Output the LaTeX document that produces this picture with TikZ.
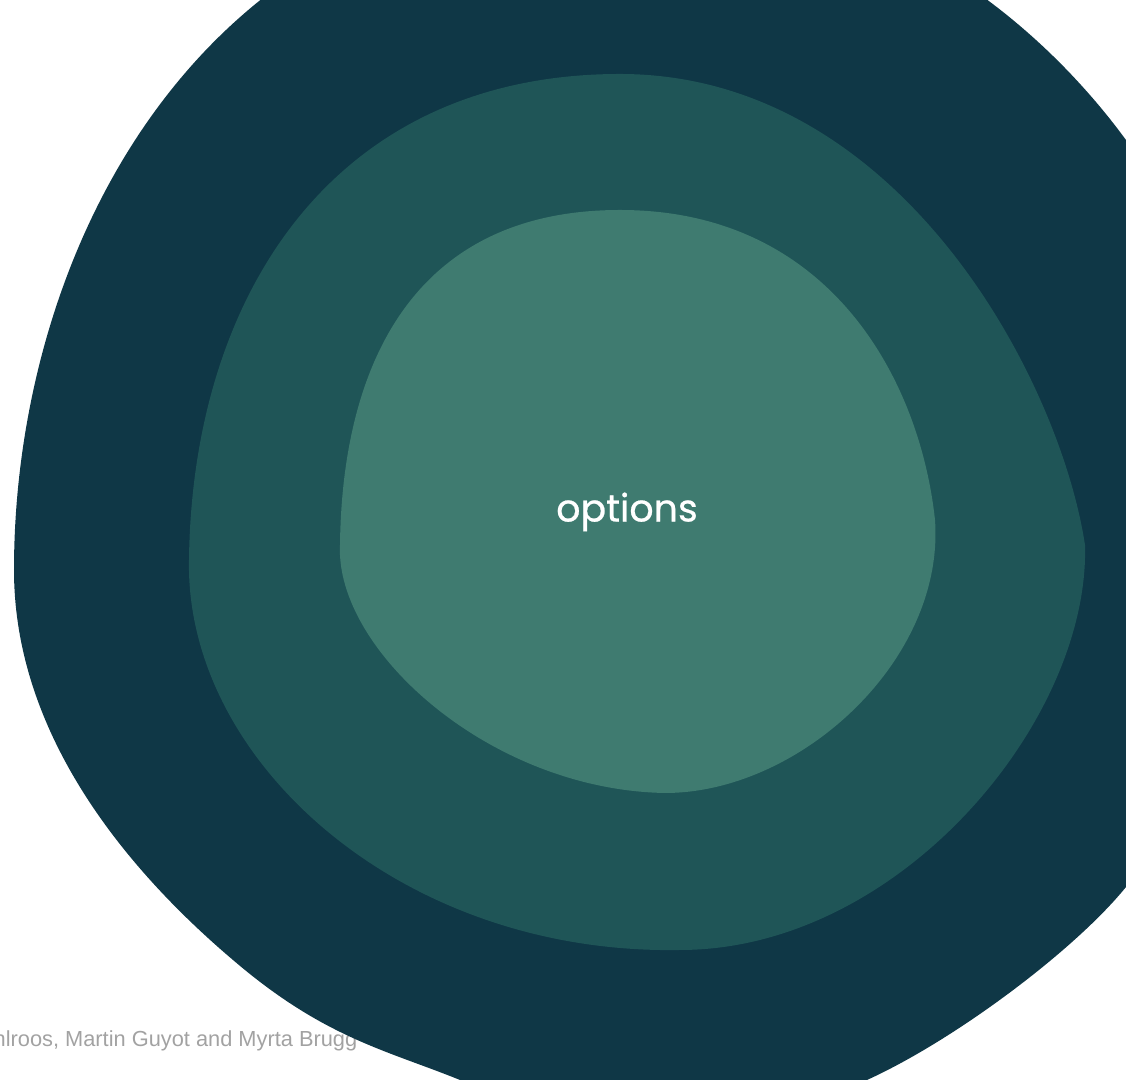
\documentclass[tikz,border=0pt]{standalone}
\usepackage{fontspec}
\usepackage{tikz}
\usetikzlibrary{positioning}
\newfontfamily\labelfont[FakeBold=0.6]{Poppins}
\newfontfamily\creditfont{Liberation Sans}
\definecolor{outerblue}{HTML}{0F3746}
\definecolor{midteal}{HTML}{1F5557}
\definecolor{innerteal}{HTML}{3F7B70}
\definecolor{creditgray}{HTML}{A2A2A2}
\tikzset{blob/.style = {draw=none}}
\tikzset{credit/.style = {anchor=base west, inner sep=0, text=creditgray, font=\creditfont\fontsize{6.2}{7}\selectfont}}
\tikzset{ringlabel/.style = {text=white, font=\labelfont\fontsize{10.8}{12}\selectfont}}

\begin{document}
\begin{tikzpicture}[x=0.01cm, y=-0.01cm]
    \useasboundingbox (0, 0) rectangle (1126, 1080);
    \clip (0, 0) rectangle (1126, 1080);

    \node [credit] (credit) at (-7, 1047) {hlroos, Martin Guyot and Myrta Brugg};

    % outer ring
    \fill [blob, outerblue] (14, 570)
        .. controls (14, 250) and (200, -120) .. (620, -120)
        .. controls (900, -120) and (1060, 50) .. (1126, 140)
        .. controls (1190, 220) and (1177, 824) .. (1126, 887)
        .. controls (1075, 950) and (955, 1040) .. (867, 1080)
        .. controls (787, 1121) and (544, 1113) .. (460, 1080)
        .. controls (386, 1050) and (324, 1038) .. (233, 960)
        .. controls (134, 876) and (14, 740) .. cycle;

    % middle ring
    \fill [blob, midteal] (189, 560)
        .. controls (192, 300) and (330, 74) .. (620, 74)
        .. controls (900, 74) and (1060, 380) .. (1085, 545)
        .. controls (1090, 720) and (900, 950) .. (680, 950)
        .. controls (400, 955) and (185, 760) .. cycle;

    % inner ring
    \fill [blob, innerteal] (340, 545)
        .. controls (342, 370) and (410, 210) .. (620, 210)
        .. controls (830, 210) and (920, 380) .. (935, 520)
        .. controls (945, 660) and (800, 793) .. (665, 793)
        .. controls (490, 790) and (335, 650) .. cycle;

    \node [ringlabel] (options) at (627, 512) {options};
\end{tikzpicture}
\end{document}
